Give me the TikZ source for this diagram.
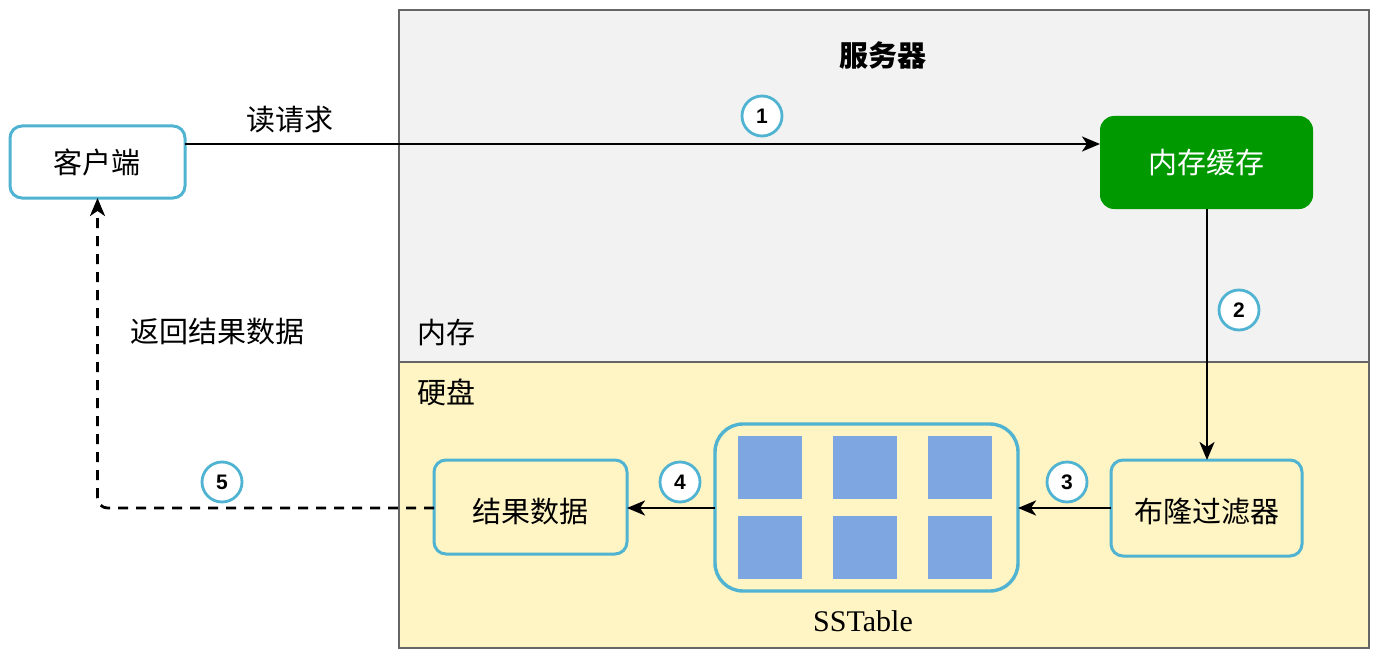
\documentclass[tikz,border=0pt]{standalone}
\usepackage{fontspec}
\setmainfont{Liberation Serif}
\newfontfamily\cjk{Noto Sans CJK SC}
\newfontfamily\numfont{Liberation Sans}
\usetikzlibrary{arrows.meta}
\definecolor{panelgray}{HTML}{F2F2F2}
\definecolor{paneledge}{HTML}{666666}
\definecolor{diskyellow}{HTML}{FFF4C3}
\definecolor{boxcyan}{HTML}{4FB3D1}
\definecolor{cachegreen}{HTML}{009900}
\definecolor{sqblue}{HTML}{7EA6E0}
\begin{document}
\begin{tikzpicture}[x=0.5pt,y=-0.5pt,
  panel/.style={draw=paneledge,line width=0.6pt},
  cbox/.style={draw=boxcyan,line width=1.5pt,rounded corners=6pt,minimum width=0pt},
  lbl/.style={font=\cjk\fontsize{14.5}{16}\selectfont},
  num/.style={circle,draw=boxcyan,fill=white,line width=1.4pt,inner sep=0pt,minimum size=20pt,font=\numfont\bfseries\fontsize{10.5}{11}\selectfont},
  conn/.style={line width=1.3pt,-{Stealth[length=9pt,width=7.5pt,inset=2.5pt]}},
  sq/.style={fill=sqblue}
]
\useasboundingbox (0,0) rectangle (1375,658);
% panels
\path[panel,fill=panelgray] (399,10) rectangle (1369,362);
\path[panel,fill=diskyellow] (399,362) rectangle (1369,648);
\node[font=\cjk\bfseries\fontsize{14.5}{16}\selectfont] (srv) at (883,55) {服务器};
\node[lbl,anchor=west] (mem) at (410,333) {内存};
\node[lbl,anchor=west] (disk) at (410,392) {硬盘};
% client
\draw[cbox,fill=white] (10,126) rectangle (185,198);
\node[lbl] (client) at (97.5,162) {客户端};
\coordinate (clientR) at (185,144);
\coordinate (clientB) at (97.5,198);
% cache
\fill[cachegreen,rounded corners=7pt] (1100,116) rectangle (1313,209);
\node[lbl,text=white] (cache) at (1206.5,162.5) {内存缓存};
\coordinate (cacheL) at (1100,144);
\coordinate (cacheB) at (1207,209);
% bloom
\draw[cbox,fill=diskyellow] (1111,460) rectangle (1302,556);
\node[lbl] (bloom) at (1206.5,512) {布隆过滤器};
\coordinate (bloomL) at (1111,508);
\coordinate (bloomT) at (1207,460);
% sstable
\draw[cbox,rounded corners=14pt,line width=1.7pt] (715,424) rectangle (1018,591);
\coordinate (sstR) at (1018,508);
\coordinate (sstL) at (715,508);
\foreach \x in {738,833,928}{
  \foreach \y in {436,516}{
    \fill[sqblue] (\x,\y) rectangle ++(63.5,63);
  }
}
\node[font=\fontsize{15}{17}\selectfont] (ssttext) at (863,621) {SSTable};
% result
\draw[cbox,fill=diskyellow] (434,460) rectangle (627,554);
\node[lbl] (result) at (530.5,512) {结果数据};
\coordinate (resultR) at (627,508);
\coordinate (resultL) at (434,508);
% connectors
\draw[conn] (clientR) -- (cacheL);
\node[lbl] (readreq) at (290,120) {读请求};
\draw[conn] (cacheB) -- (bloomT);
\draw[conn] (bloomL) -- (sstR);
\draw[conn] (sstL) -- (resultR);
\draw[conn,line width=1.4pt,dash pattern=on 5pt off 4pt,rounded corners=5pt] (resultL) -- (97.5,508) -- (clientB);
\node[lbl] (ret) at (217,332) {返回结果数据};
% step numbers
\node[num] (n1) at (762,116) {1};
\node[num] (n2) at (1239,310) {2};
\node[num] (n3) at (1067,482) {3};
\node[num] (n4) at (680,482) {4};
\node[num] (n5) at (222,482) {5};
\end{tikzpicture}
\end{document}
